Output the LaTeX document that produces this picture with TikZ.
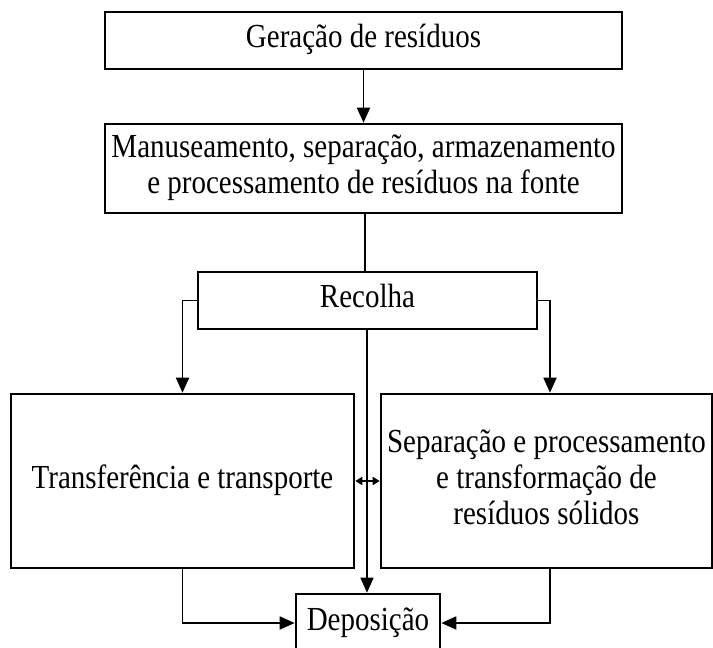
\documentclass[tikz,border=0pt]{standalone}
\usepackage{fontspec}
\setmainfont{Liberation Serif}
\usetikzlibrary{arrows.meta}
\newcommand{\vtxt}[1]{\scalebox{1}[1.16]{\begin{tabular}{@{}c@{}}#1\end{tabular}}}
\begin{document}
\begin{tikzpicture}[x=1pt,y=-1pt,
  box/.style={draw,line width=2.6pt,rectangle,inner sep=0pt,align=center,
    font=\fontsize{29}{31}\selectfont},
  conn/.style={line width=1.8pt},
  arr/.style={conn,-{Triangle[length=15pt,width=13pt]}},
  darr/.style={conn,{Triangle[length=7pt,width=8pt]}-{Triangle[length=7pt,width=8pt]}}]
\useasboundingbox (0,0) rectangle (713,648);
\begin{scope}
\clip (0,0) rectangle (713,648);
\node[box,minimum width=517pt,minimum height=57pt] (g) at (363.5,40.5) {\vtxt{Geração de resíduos}};
\node[box,minimum width=517pt,minimum height=89pt] (m) at (363.5,168.5) {\vtxt{Manuseamento, separação, armazenamento\\e processamento de resíduos na fonte}};
\node[box,minimum width=339pt,minimum height=57pt] (r) at (367.5,300.5) {\vtxt{Recolha}};
\node[box,minimum width=343pt,minimum height=174pt] (t) at (182.5,481) {\vtxt{Transferência e transporte}};
\node[box,minimum width=331pt,minimum height=174pt] (s) at (546.5,481) {\vtxt{Separação e processamento\\e transformação de\\resíduos sólidos}};
\node[box,minimum width=144pt,minimum height=58pt] (d) at (368,623) {\vtxt{Deposição}};
\end{scope}
\draw[arr] (g.south) -- (m.north);
\draw[conn,line width=2.4pt] ([xshift=1.5pt]m.south) -- ([xshift=1.5pt]m.south |- r.north);
\draw[arr] (r.west) -| (t.north);
\draw[arr] (r.east) -| ([xshift=3.5pt]s.north);
\draw[arr,line width=1.3pt] ([xshift=-0.5pt]r.south) -- ([xshift=-0.5pt]r.south |- d.north);
\draw[darr] (t.east) -- (s.west);
\draw[arr] (t.south) |- (d.west);
\draw[arr] ([xshift=3.5pt]s.south) |- (d.east);
\end{tikzpicture}
\end{document}
